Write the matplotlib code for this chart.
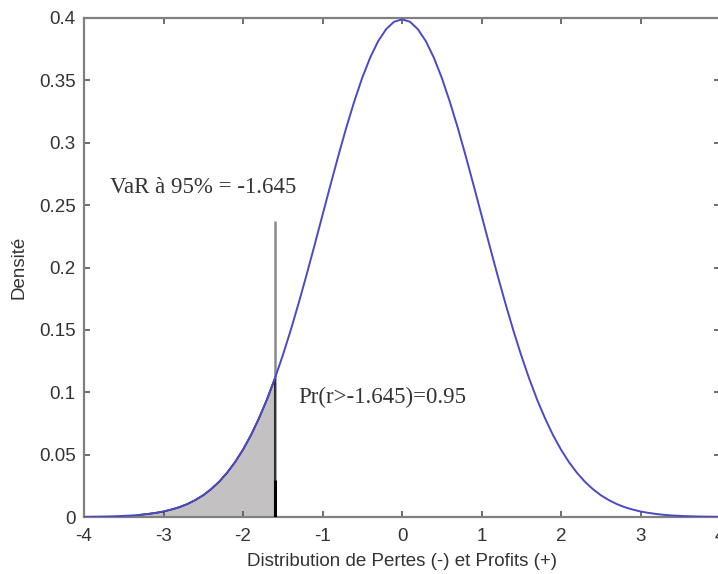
import matplotlib
matplotlib.use("Agg")
import matplotlib.pyplot as plt
import numpy as np

x_vals = [round(-4.0 + 0.1 * i, 1) for i in range(81)]
half = [0.0001, 0.0002, 0.0003, 0.0004, 0.0006, 0.0009, 0.0012, 0.0017, 0.0024, 0.0033,
        0.0044, 0.0060, 0.0079, 0.0104, 0.0136, 0.0175, 0.0224, 0.0283, 0.0355, 0.0440,
        0.0540, 0.0656, 0.0790, 0.0940, 0.1109, 0.1295, 0.1497, 0.1714, 0.1942, 0.2179,
        0.2420, 0.2661, 0.2897, 0.3123, 0.3332, 0.3521, 0.3683, 0.3814, 0.3910, 0.3970]
peak = [0.3989]
density = half + peak + half[::-1]

shade_start = -3.3
var_x = -1.6
var_top = 0.237
var_label = "VaR à 95% = -1.645"
prob_label = "Pr(r>-1.645)=0.95"
xticks = [-4, -3, -2, -1, 0, 1, 2, 3, 4]
yticks = [0, 0.05, 0.1, 0.15, 0.2, 0.25, 0.3, 0.35, 0.4]
ytick_labels = ["0", "0.05", "0.1", "0.15", "0.2", "0.25", "0.3", "0.35", "0.4"]
xlabel = "Distribution de Pertes (-) et Profits (+)"
ylabel = "Densité"

W, H = 718, 574
fig = plt.figure(figsize=(W / 100, H / 100), dpi=100)
ax = fig.add_axes([84 / W, 57 / H, 636 / W, 499 / H])

x = np.array(x_vals)
y = np.array(density)
mask = (x >= shade_start - 1e-9) & (x <= var_x + 1e-9)
xs = x[mask]
ys = y[mask]

ax.fill_between(xs, 0, ys, facecolor="#c3c1c1", edgecolor="none", zorder=1)
# outline of shaded area
ax.plot(np.concatenate([[xs[0]], xs, [xs[-1]], [xs[0]]]),
        np.concatenate([[0], ys, [0], [0]]), color="black", lw=1.2, zorder=2)
ax.vlines(var_x, 0, var_top, color="#8a8a8a", lw=1.8, zorder=3)
ax.vlines(var_x, 0, ys[-1], color="#222222", lw=1.2, zorder=4)
ax.vlines(var_x, 0, 0.03, color="black", lw=2.2, zorder=4)
ax.plot(x, y, color="#4a4ac4", lw=1.4, zorder=5)

serif = ["Liberation Serif", "DejaVu Serif"]
sans = ["Liberation Sans", "DejaVu Sans"]
ax.text(-3.67, 0.264, var_label, fontsize=16.5, family=serif, color="#333333",
        va="center", ha="left")
ax.text(-1.31, 0.0955, prob_label, fontsize=16.5, family=serif, color="#333333",
        va="center", ha="left")

ax.set_xlim(-4, 4)
ax.set_ylim(0, 0.4)
ax.set_xticks(xticks)
ax.set_xticklabels([str(t) for t in xticks])
ax.set_yticks(yticks)
ax.set_yticklabels(ytick_labels)
ax.tick_params(direction="in", length=4, width=1.2, color="#555555",
               top=True, right=True, labelsize=13.5, labelcolor="#333333")
ax.tick_params(axis="x", pad=8)
ax.tick_params(axis="y", pad=6)
for lab in ax.get_xticklabels() + ax.get_yticklabels():
    lab.set_family(sans)
for s in ax.spines.values():
    s.set_color("#808080")
    s.set_linewidth(1.6)

ax.set_xlabel(xlabel, fontsize=13.5, family=sans, color="#333333", labelpad=6)
ax.set_ylabel(ylabel, fontsize=13.5, family=sans, color="#333333", labelpad=8)

fig.savefig("out.png", dpi=100, facecolor="white")
